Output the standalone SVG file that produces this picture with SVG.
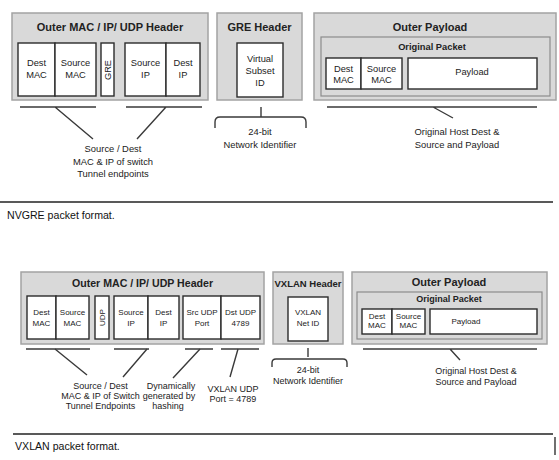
<svg xmlns="http://www.w3.org/2000/svg" width="559" height="460" viewBox="0 0 559 460">
<style>
text{font-family:"Liberation Sans",Arial,sans-serif;fill:#222;text-anchor:middle}
.outer{fill:#d9d9d9;stroke:#a3a3a3;stroke-width:1.5}
.pkt{fill:#d9d9d9;stroke:#8c8c8c;stroke-width:1.2}
.cell{fill:#fff;stroke:#2b2b2b;stroke-width:1.4}
.t{font-weight:bold;font-size:11px}
.st{font-weight:bold;font-size:9.3px}
.c1{font-size:9.3px}
.c2{font-size:8px}
.lb{font-size:9.4px}
.lb2{font-size:9px}
.ln{stroke:#3a3a3a;stroke-width:1.4;fill:none}
.cap{font-size:10.6px;text-anchor:start;fill:#111}
.rule{stroke:#222;stroke-width:1.3}
</style>

<!-- ===== NVGRE ===== -->
<g id="nvgre-outer-mac">
<rect class="outer" x="12" y="13" width="196" height="87"/>
<text class="t" x="110" y="31">Outer MAC / IP/ UDP Header</text>
<rect class="cell" x="18" y="43" width="37" height="53"/>
<rect class="cell" x="55" y="43" width="41" height="53"/>
<rect class="cell" x="101" y="43" width="13" height="53"/>
<rect class="cell" x="125" y="43" width="41" height="53"/>
<rect class="cell" x="166" y="43" width="34" height="53"/>
<text class="c1" x="36.5" y="66">Dest</text><text class="c1" x="36.5" y="78">MAC</text>
<text class="c1" x="75.5" y="66">Source</text><text class="c1" x="75.5" y="78">MAC</text>
<text class="c1" transform="translate(110.8 70) rotate(-90)">GRE</text>
<text class="c1" x="145.5" y="66">Source</text><text class="c1" x="145.5" y="78">IP</text>
<text class="c1" x="183" y="66">Dest</text><text class="c1" x="183" y="78">IP</text>
</g>

<g id="nvgre-gre-header">
<rect class="outer" x="217" y="13" width="85" height="87"/>
<text class="t" x="259.5" y="31">GRE Header</text>
<rect class="cell" x="237" y="43" width="46" height="54"/>
<text class="c1" x="260" y="62">Virtual</text>
<text class="c1" x="260" y="74">Subset</text>
<text class="c1" x="260" y="86">ID</text>
</g>

<g id="nvgre-outer-payload">
<rect class="outer" x="314" y="13" width="242" height="87"/>
<text class="t" x="430" y="31">Outer Payload</text>
<rect class="pkt" x="321" y="37" width="229" height="59"/>
<text class="st" x="432" y="50">Original Packet</text>
<rect class="cell" x="326" y="58" width="35" height="31"/>
<rect class="cell" x="361" y="58" width="41" height="31"/>
<rect class="cell" x="408" y="58" width="129" height="31"/>
<text class="c1" x="343.5" y="72">Dest</text><text class="c1" x="343.5" y="83">MAC</text>
<text class="c1" x="381.5" y="72">Source</text><text class="c1" x="381.5" y="83">MAC</text>
<text class="c1" x="472" y="75">Payload</text>
</g>

<g id="nvgre-label-endpoints">
<text class="lb" x="113" y="152">Source / Dest</text>
<text class="lb" x="113" y="165">MAC &amp; IP of switch</text>
<text class="lb" x="113" y="177">Tunnel endpoints</text>
</g>
<g id="nvgre-label-vsid">
<text class="lb" x="260" y="135">24-bit</text>
<text class="lb" x="260" y="148">Network Identifier</text>
</g>
<g id="nvgre-label-payload">
<text class="lb" x="457" y="135">Original Host Dest &amp;</text>
<text class="lb" x="457" y="148">Source and Payload</text>
</g>

<g id="nvgre-connectors">
<path class="ln" d="M20 107H96M126 107H202M55 107L93 139M166 107L137 139"/>
<path class="ln" d="M261 107V117M215 128V122Q215 117 220 117H301Q306 117 306 122V128"/>
<path class="ln" d="M327 107H537M433 107L453 118"/>
</g>

<line class="rule" x1="0" y1="202" x2="553" y2="202"/>
<text class="cap" x="7" y="219">NVGRE packet format.</text>

<!-- ===== VXLAN ===== -->
<g id="vxlan-outer-mac">
<rect class="outer" x="21" y="272" width="243" height="72"/>
<text class="t" x="142.5" y="287" style="font-size:10.6px">Outer MAC / IP/ UDP Header</text>
<rect class="cell" x="27" y="296" width="29" height="43"/>
<rect class="cell" x="56" y="296" width="33" height="43"/>
<rect class="cell" x="95" y="296" width="14" height="43"/>
<rect class="cell" x="114" y="296" width="34" height="43"/>
<rect class="cell" x="148" y="296" width="31" height="43"/>
<rect class="cell" x="183" y="296" width="38" height="43"/>
<rect class="cell" x="221" y="296" width="39" height="43"/>
<text class="c2" x="41.5" y="315">Dest</text><text class="c2" x="41.5" y="326">MAC</text>
<text class="c2" x="72.5" y="315">Source</text><text class="c2" x="72.5" y="326">MAC</text>
<text class="c2" transform="translate(104.8 317.5) rotate(-90)">UDP</text>
<text class="c2" x="131" y="315">Source</text><text class="c2" x="131" y="326">IP</text>
<text class="c2" x="163.5" y="315">Dest</text><text class="c2" x="163.5" y="326">IP</text>
<text class="c2" x="202" y="315">Src UDP</text><text class="c2" x="202" y="326">Port</text>
<text class="c2" x="240.5" y="315">Dst UDP</text><text class="c2" x="240.5" y="326">4789</text>
</g>

<g id="vxlan-header">
<rect class="outer" x="273" y="272" width="70" height="72"/>
<text class="t" x="308" y="287" style="font-size:9.5px">VXLAN Header</text>
<rect class="cell" x="288" y="297" width="40" height="44"/>
<text class="c2" x="308" y="315">VXLAN</text>
<text class="c2" x="308" y="326">Net ID</text>
</g>

<g id="vxlan-outer-payload">
<rect class="outer" x="352" y="272" width="195" height="72"/>
<text class="t" x="449" y="286">Outer Payload</text>
<rect class="pkt" x="357" y="292" width="185" height="47"/>
<text class="st" x="449" y="302" style="font-size:9px">Original Packet</text>
<rect class="cell" x="362" y="309" width="30" height="25"/>
<rect class="cell" x="392" y="309" width="33" height="25"/>
<rect class="cell" x="430" y="309" width="107" height="25"/>
<text class="c2" x="377" y="319">Dest</text><text class="c2" x="377" y="328">MAC</text>
<text class="c2" x="408.5" y="319">Source</text><text class="c2" x="408.5" y="328">MAC</text>
<text class="c2" x="466" y="324">Payload</text>
</g>

<g id="vxlan-label-endpoints">
<text class="lb2" x="100.5" y="389">Source / Dest</text>
<text class="lb2" x="100.5" y="399">MAC &amp; IP of Switch</text>
<text class="lb2" x="100.5" y="409">Tunnel Endpoints</text>
</g>
<g id="vxlan-label-hashing">
<text class="lb2" x="171" y="389">Dynamically</text>
<text class="lb2" x="169" y="399">generated by</text>
<text class="lb2" x="168" y="409">hashing</text>
</g>
<g id="vxlan-label-port">
<text class="lb2" x="233" y="392">VXLAN UDP</text>
<text class="lb2" x="233" y="402">Port = 4789</text>
</g>
<g id="vxlan-label-vni">
<text class="lb2" x="308" y="373">24-bit</text>
<text class="lb2" x="308" y="384">Network Identifier</text>
</g>
<g id="vxlan-label-payload">
<text class="lb2" x="476" y="374">Original Host Dest &amp;</text>
<text class="lb2" x="476" y="385">Source and Payload</text>
</g>

<g id="vxlan-connectors">
<path class="ln" d="M26 349H90M114 349H149M185 349H213M221 349H259"/>
<path class="ln" d="M55 349L87 375M147 349L123 377M200 349L173 378M238 349L230 377"/>
<path class="ln" d="M308 348V357M272 367V363Q272 359 276 359H343Q347 359 347 363V367"/>
<path class="ln" d="M363 349H537M450 349L460 360"/>
</g>

<line class="rule" x1="13" y1="434" x2="553" y2="434"/>
<line class="rule" x1="555" y1="437" x2="555" y2="455"/>
<text class="cap" x="15" y="450">VXLAN packet format.</text>
</svg>
